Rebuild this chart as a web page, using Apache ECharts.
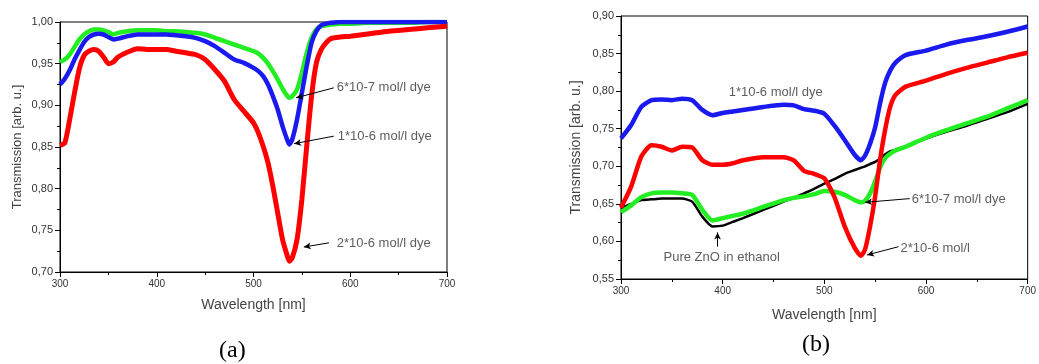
<!DOCTYPE html>
<html>
<head>
<meta charset="utf-8">
<script src="https://cdn.jsdelivr.net/npm/echarts@6/dist/echarts.min.js"></script>
<style>
  html, body { margin: 0; padding: 0; background: #fff; }
  #main { width: 1039px; height: 364px; }
</style>
</head>
<body>
<div id="main"></div>
<script>
// panel (a): wavelength grid and transmission of the three dye concentrations
var waveA = [300,305,310,315,320,325,330,335,340,345,350,355,360,370,380,390,400,410,420,430,440,450,460,470,480,490,500,505,510,515,520,525,530,535,537,540,545,550,555,560,565,570,575,580,590,600,620,640,660,680,700];
var redA = [0.852,0.855,0.883,0.915,0.944,0.960,0.965,0.967,0.965,0.958,0.950,0.952,0.958,0.964,0.968,0.967,0.967,0.967,0.965,0.963,0.961,0.955,0.943,0.929,0.907,0.893,0.879,0.867,0.851,0.831,0.803,0.771,0.739,0.719,0.713,0.717,0.739,0.787,0.851,0.911,0.951,0.967,0.975,0.980,0.982,0.983,0.986,0.989,0.991,0.993,0.995];
var blueA = [0.925,0.932,0.942,0.955,0.966,0.976,0.982,0.985,0.986,0.985,0.982,0.979,0.980,0.983,0.985,0.985,0.985,0.985,0.984,0.983,0.981,0.977,0.971,0.963,0.955,0.951,0.945,0.941,0.935,0.925,0.911,0.895,0.875,0.858,0.853,0.859,0.883,0.915,0.947,0.975,0.989,0.996,0.998,0.999,1.000,1.000,1.000,1.000,1.000,1.000,1.000];
var greenA = [0.952,0.955,0.961,0.970,0.979,0.985,0.989,0.991,0.991,0.990,0.988,0.985,0.987,0.989,0.990,0.990,0.990,0.989,0.989,0.988,0.987,0.985,0.981,0.977,0.973,0.969,0.965,0.962,0.957,0.950,0.941,0.931,0.920,0.911,0.909,0.911,0.919,0.939,0.963,0.981,0.991,0.995,0.996,0.997,0.998,0.998,0.999,0.999,0.999,1.000,1.000];

// panel (b): with ZnO
var waveB = [300,310,320,330,340,350,360,370,380,390,400,410,420,440,460,470,480,490,500,510,520,530,536,540,545,550,555,560,565,570,580,600,620,640,660,680,700];
var blueB = [0.737,0.755,0.779,0.788,0.789,0.788,0.790,0.788,0.775,0.768,0.771,0.773,0.775,0.779,0.782,0.781,0.776,0.774,0.770,0.754,0.735,0.715,0.708,0.714,0.730,0.752,0.785,0.812,0.828,0.838,0.848,0.854,0.862,0.868,0.873,0.879,0.886];
var redB = [0.645,0.673,0.713,0.728,0.726,0.721,0.726,0.725,0.708,0.702,0.702,0.704,0.708,0.712,0.712,0.708,0.694,0.690,0.684,0.659,0.620,0.591,0.581,0.589,0.620,0.660,0.710,0.750,0.780,0.795,0.806,0.814,0.823,0.831,0.838,0.845,0.851];
var greenB = [0.639,0.648,0.659,0.664,0.665,0.665,0.664,0.662,0.642,0.628,0.631,0.634,0.637,0.646,0.655,0.658,0.660,0.663,0.667,0.666,0.662,0.655,0.652,0.654,0.664,0.680,0.699,0.711,0.717,0.721,0.726,0.738,0.748,0.757,0.766,0.777,0.788];
var zincB = [0.644,0.650,0.655,0.656,0.657,0.657,0.657,0.653,0.633,0.620,0.621,0.626,0.631,0.642,0.653,0.658,0.664,0.670,0.677,0.683,0.690,0.695,0.698,0.700,0.703,0.706,0.710,0.716,0.720,0.722,0.726,0.737,0.746,0.754,0.763,0.772,0.783];

// annotations: text, anchor [x, y], arrow from -> to (data units)
var notesA = [
  { text: '6*10-7 mol/l dye', at: [586, 0.921], from: [583, 0.921], to: [544, 0.909] },
  { text: '1*10-6 mol/l dye', at: [587, 0.863], from: [583, 0.863], to: [542, 0.854] },
  { text: '2*10-6 mol/l dye', at: [586, 0.734], from: [578, 0.735], to: [552, 0.730] }
];
var notesB = [
  { text: '1*10-6 mol/l dye', at: [406, 0.798] },
  { text: '6*10-7 mol/l dye', at: [586, 0.656], from: [584, 0.657], to: [540, 0.652] },
  { text: '2*10-6 mol/l', at: [575, 0.591], from: [573, 0.593], to: [542, 0.582] }
];
var noteZnO = { text: 'Pure ZnO in ethanol', at: [399, 0.579], from: [395, 0.593], to: [395, 0.612] };

function pairs(xs, ys) {
  return xs.map(function (x, i) { return [x, ys[i]]; });
}
function comma(v) { return v.toFixed(2).replace('.', ','); }

var font = 'Liberation Sans, Arial, sans-serif';

function xAx(idx, gap, nameSize) {
  return {
    gridIndex: idx, type: 'value', min: 300, max: 700, interval: 100,
    name: 'Wavelength [nm]', nameLocation: 'middle', nameGap: gap,
    nameTextStyle: { fontFamily: font, fontSize: nameSize, color: '#444' },
    axisLine: { lineStyle: { color: '#000', width: 1 } },
    axisTick: { inside: false, length: 5, lineStyle: { color: '#000' } },
    minorTick: { show: true, splitNumber: 2, length: 3, lineStyle: { color: '#000' } },
    axisLabel: { fontFamily: font, fontSize: 10, color: '#333', margin: 7 },
    splitLine: { show: false }
  };
}
function yAx(idx, min, max, gap, nameSize) {
  return {
    gridIndex: idx, type: 'value', min: min, max: max, interval: 0.05,
    name: 'Transmission [arb. u.]', nameLocation: 'middle', nameGap: gap,
    nameTextStyle: { fontFamily: font, fontSize: nameSize, color: '#444' },
    axisLine: { lineStyle: { color: '#000', width: 1 } },
    axisTick: { inside: false, length: 5, lineStyle: { color: '#000' } },
    minorTick: { show: true, splitNumber: 2, length: 3, lineStyle: { color: '#000' } },
    axisLabel: { fontFamily: font, fontSize: 11, color: '#333', margin: 7, formatter: comma },
    splitLine: { show: false }
  };
}
function curve(idx, xs, ys, color, width) {
  return {
    type: 'line', xAxisIndex: idx, yAxisIndex: idx, data: pairs(xs, ys),
    showSymbol: false, smooth: 0.2, lineStyle: { color: color, width: width }, z: 3
  };
}
function notes(idx, list) {
  var arrows = list.filter(function (n) { return n.from; }).map(function (n) {
    return [{ coord: n.from }, { coord: n.to }];
  });
  return {
    type: 'scatter', xAxisIndex: idx, yAxisIndex: idx, symbolSize: 0, silent: true, z: 5,
    data: list.map(function (n) { return { value: n.at, name: n.text }; }),
    label: { show: true, position: 'right', distance: 0, formatter: '{b}',
             fontFamily: font, fontSize: 13, color: '#333' },
    markLine: {
      silent: true, symbol: ['none', 'arrow'], symbolSize: [5, 7],
      lineStyle: { color: '#000', width: 1, type: 'solid' },
      label: { show: false }, data: arrows
    }
  };
}

var myChart = echarts.init(document.getElementById('main'));
var option = {
  backgroundColor: '#fff',
  animation: false,
  title: [
    { text: '(a)', left: 214, top: 334, textStyle: { fontFamily: 'Liberation Serif, Times New Roman, serif', fontSize: 24, fontWeight: 'normal', color: '#000' } },
    { text: '(b)', left: 797, top: 328, textStyle: { fontFamily: 'Liberation Serif, Times New Roman, serif', fontSize: 24, fontWeight: 'normal', color: '#000' } }
  ],
  grid: [
    { left: 60, top: 22, width: 387, height: 250, show: true, borderColor: '#000', borderWidth: 1, backgroundColor: 'transparent' },
    { left: 621, top: 16, width: 410, height: 263, show: true, borderColor: '#000', borderWidth: 1, backgroundColor: 'transparent' }
  ],
  xAxis: [xAx(0, 26, 14), xAx(1, 29, 14)],
  yAxis: [yAx(0, 0.70, 1.00, 36, 13), yAx(1, 0.55, 0.90, 38, 14)],
  series: [
    curve(0, waveA, greenA, '#22ee22', 4.5),
    curve(0, waveA, blueA, '#1a1af0', 4.5),
    curve(0, waveA, redA, '#ff0000', 5),
    curve(1, waveB, zincB, '#000', 2.5),
    curve(1, waveB, greenB, '#22ee22', 4.5),
    curve(1, waveB, blueB, '#1a1af0', 4.5),
    curve(1, waveB, redB, '#ff0000', 4.5),
    notes(0, notesA),
    notes(1, notesB),
    {
      type: 'scatter', xAxisIndex: 1, yAxisIndex: 1, symbolSize: 0, silent: true, z: 5,
      data: [{ value: noteZnO.at, name: noteZnO.text }],
      label: { show: true, position: 'inside', formatter: '{b}', fontFamily: font, fontSize: 13, color: '#333' },
      markLine: {
        silent: true, symbol: ['none', 'arrow'], symbolSize: [5, 7],
        lineStyle: { color: '#000', width: 1, type: 'solid' },
        label: { show: false }, data: [[{ coord: noteZnO.from }, { coord: noteZnO.to }]]
      }
    }
  ]
};
myChart.setOption(option);
</script>
</body>
</html>
